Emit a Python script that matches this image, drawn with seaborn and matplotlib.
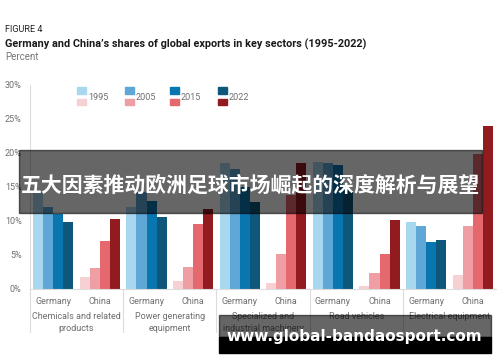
import matplotlib
matplotlib.use("Agg")
import matplotlib.pyplot as plt
from matplotlib.patches import Rectangle
import pandas as pd
import seaborn as sns

sns.set_style("white")
plt.rcParams["font.family"] = ["Roboto", "DejaVu Sans"]

SECTORS = ["Chemicals and related\nproducts", "Power generating\nequipment",
           "Specialized and\nindustrial machinery", "Road vehicles", "Electrical equipment"]
COUNTRIES = ["Germany", "China"]
YEARS = ["1995", "2005", "2015", "2022"]

germany_1995 = [14.2, 12.1, 18.6, 18.7, 9.9]
germany_2005 = [12.1, 14.3, 17.6, 18.6, 9.2]
germany_2015 = [11.0, 13.0, 15.0, 18.3, 6.9]
germany_2022 = [9.9, 10.6, 12.8, 14.6, 7.2]
china_1995 = [1.8, 1.2, 0.9, 0.5, 2.0]
china_2005 = [3.1, 3.2, 5.2, 2.4, 9.2]
china_2015 = [7.1, 9.6, 13.8, 5.2, 19.9]
china_2022 = [10.3, 11.7, 18.5, 10.2, 24.0]

BLUES = ["#a8d8ef", "#5ea7d6", "#0a76b0", "#0e577a"]
REDS = ["#f7d0d4", "#ef9ea4", "#e4686d", "#921b1f"]
GREY = "#6f6f6f"
LINE = "#dcdcdc"

series = {
    "Germany": [germany_1995, germany_2005, germany_2015, germany_2022],
    "China": [china_1995, china_2005, china_2015, china_2022],
}
rows = []
for country, vals in series.items():
    for year, v in zip(YEARS, vals):
        for s, val in zip(SECTORS, v):
            rows.append({"key": f"{s}|{country}", "country": country, "year": year, "value": val})
df = pd.DataFrame(rows)
order = [f"{s}|{c}" for s in SECTORS for c in COUNTRIES]

fig = plt.figure(figsize=(5, 3.62), dpi=100)
ax = fig.add_axes([0.06, 0.2017, 0.932, 0.5635])

for country, pal in (("Germany", BLUES), ("China", REDS)):
    sns.barplot(data=df[df["country"] == country], x="key", y="value", hue="year",
                order=order, hue_order=YEARS, palette=pal, width=0.86,
                saturation=1, linewidth=0, legend=False, ax=ax)

ax.set_xlim(-0.5, len(order) - 0.5)
ax.set_ylim(0, 30)
ax.set_yticks(range(0, 31, 5))
ax.set_yticklabels([f"{t}%" for t in range(0, 31, 5)])
ax.set_xticks(range(len(order)))
ax.set_xticklabels([k.split("|")[1] for k in order])
ax.tick_params(axis="both", length=0, labelsize=6.5, colors=GREY)
ax.tick_params(axis="y", pad=6)
ax.tick_params(axis="x", pad=6)
ax.set_xlabel("")
ax.set_ylabel("")
for sp in ("top", "right"):
    ax.spines[sp].set_visible(False)
for sp in ("left", "bottom"):
    ax.spines[sp].set_color(LINE)
    ax.spines[sp].set_linewidth(0.8)

trans = ax.get_xaxis_transform()
for xs in [-0.5, 1.5, 3.5, 5.5, 7.5]:
    ax.plot([xs, xs], [0, -0.21], color=LINE, lw=0.8, transform=trans, clip_on=False)
for i, s in enumerate(SECTORS):
    ax.text(2 * i + 0.5, -0.115, s, transform=trans, ha="center", va="top",
            fontsize=6.5, color=GREY, linespacing=1.3)

# titles
fig.text(0.01, 0.918, "FIGURE 4", fontsize=6.5, color="#222222", va="center")
fig.text(0.01, 0.878, "Germany and China\u2019s shares of global exports in key sectors (1995-2022)",
         fontsize=7.85, fontweight="bold", color="#1a1a1a", va="center")
fig.text(0.01, 0.842, "Percent", fontsize=7, color="#777777", va="center")

# legend
leg_x = [77, 125, 170, 218]
for x0, y, b, r in zip(leg_x, YEARS, BLUES, REDS):
    fig.patches.append(Rectangle((x0 / 500, 1 - 94 / 362), 9 / 500, 7 / 362,
                                 transform=fig.transFigure, color=b))
    fig.patches.append(Rectangle((x0 / 500, 1 - 105 / 362), 9 / 500, 6 / 362,
                                 transform=fig.transFigure, color=r))
    fig.text((x0 + 11) / 500, 1 - 97 / 362, y, fontsize=6.5, color=GREY, va="center")

# overlay banners
fig.patches.append(Rectangle((19 / 500, 1 - 212.7 / 362), 463 / 500, 62.7 / 362,
                             transform=fig.transFigure, color="black", alpha=0.6, zorder=10))
fig.text(0.5, 1 - 185 / 362, "五大因素推动欧洲足球市场崛起的深度解析与展望",
         family=["Noto Sans CJK SC", "DejaVu Sans"], fontsize=15, fontweight="bold",
         color="white", ha="center", va="center", zorder=11)
fig.patches.append(Rectangle((219 / 500, 1 - 337.3 / 362), 272 / 500, 22.3 / 362,
                             transform=fig.transFigure, color="black", alpha=0.6, zorder=10))
fig.patches.append(Rectangle((219 / 500, 1 - 352.7 / 362), 272 / 500, 15.4 / 362,
                             transform=fig.transFigure, color="black", zorder=10))
fig.text(354 / 500, 1 - 337 / 362, "www.global-bandaosport.com",
         family=["DejaVu Sans"], fontsize=11, fontweight="bold",
         color="white", ha="center", va="center", zorder=11)

fig.savefig("out.png", dpi=100)
